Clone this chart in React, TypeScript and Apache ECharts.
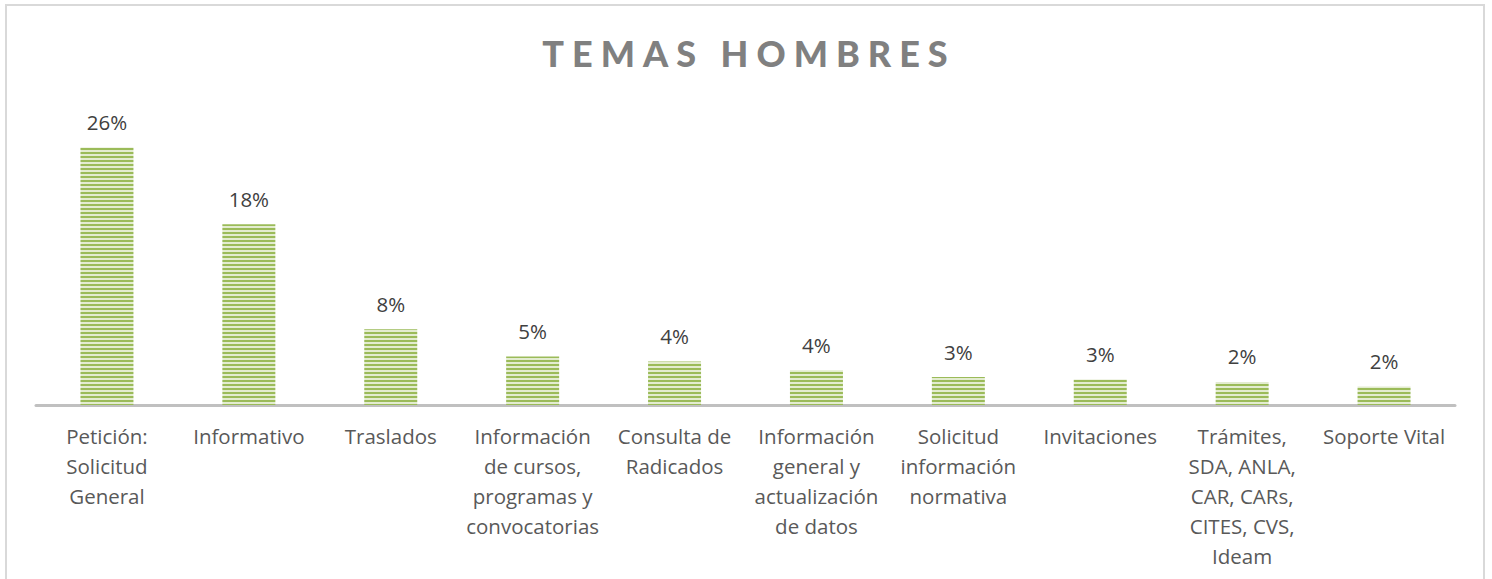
import React, { useEffect, useRef } from "react";
import * as echarts from "echarts";

const categories: string[] = [
  "Petición:\nSolicitud\nGeneral",
  "Informativo",
  "Traslados",
  "Información\nde cursos,\nprogramas y\nconvocatorias",
  "Consulta de\nRadicados",
  "Información\ngeneral y\nactualización\nde datos",
  "Solicitud\ninformación\nnormativa",
  "Invitaciones",
  "Trámites,\nSDA, ANLA,\nCAR, CARs,\nCITES, CVS,\nIdeam",
  "Soporte Vital",
];

const values: number[] = [26.3, 18.45, 7.75, 4.95, 4.45, 3.55, 2.85, 2.6, 2.35, 1.9];

const titleText = "TEMAS HOMBRES";

function makeStripe(): string {
  const c = document.createElement("canvas");
  c.width = 4;
  c.height = 4;
  const ctx = c.getContext("2d")!;
  ctx.fillStyle = "#9bbb59";
  ctx.fillRect(0, 0, 4, 2);
  ctx.fillStyle = "#e3ecd0";
  ctx.fillRect(0, 2, 4, 2);
  return c.toDataURL();
}

export default function App() {
  const ref = useRef<HTMLDivElement>(null);
  useEffect(() => {
    if (!ref.current) return;
    const chart = echarts.init(ref.current, undefined, { renderer: "svg" });
    const stripe = makeStripe();
    chart.setOption({
      animation: false,
      backgroundColor: "#ffffff",
      grid: { left: 36, right: 37, top: 111.3, bottom: 174, containLabel: false },
      xAxis: {
        type: "category",
        data: categories,
        axisLine: { show: true, lineStyle: { color: "#c0c0c0", width: 3 } },
        axisTick: { show: false },
        axisLabel: {
          interval: 0,
          color: "#595959",
          fontFamily: "Open Sans",
          fontSize: 20.5,
          lineHeight: 30,
          margin: 16,
        },
      },
      yAxis: {
        type: "value",
        min: 0,
        max: 30,
        show: false,
        splitLine: { show: false },
      },
      graphic: [
        {
          type: "rect",
          shape: { x: 6, y: 5, width: 1478, height: 620 },
          style: { fill: "none", stroke: "#d9d9d9", lineWidth: 2 },
          silent: true,
        },
      ],
      series: [
        {
          type: "bar",
          data: values,
          barWidth: 53,
          itemStyle: {
            color: { image: stripe, repeat: "repeat" },
          },
          label: {
            show: true,
            position: "top",
            distance: 15,
            color: "#404040",
            fontFamily: "Open Sans",
            fontSize: 20.5,
            formatter: (p: any) => Math.round(p.value) + "%",
          },
        },
      ],
    });
    return () => chart.dispose();
  }, []);
  return (
    <div style={{ position: "absolute", left: 0, top: 0, width: 1492, height: 579, overflow: "hidden" }}>
      <div ref={ref} style={{ width: 1492, height: 579 }} />
      <div
        style={{
          position: "absolute",
          left: 0,
          width: 1492,
          top: 33,
          textAlign: "center",
          fontFamily: "Lato",
          fontWeight: 900,
          fontSize: 36,
          lineHeight: "40px",
          letterSpacing: "8px",
          color: "#808080",
          paddingLeft: 6,
          boxSizing: "border-box",
        }}
      >
        {titleText}
      </div>
    </div>
  );
}
